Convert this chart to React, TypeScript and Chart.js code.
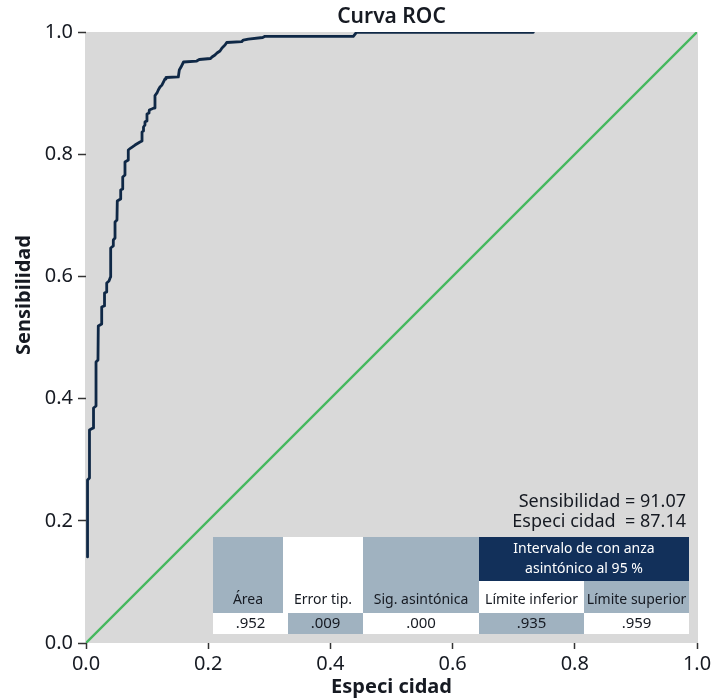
import React, { useEffect, useRef } from 'react';
import { Chart, registerables } from 'chart.js';

Chart.register(...registerables);

// ROC curve (1 - especificidad, sensibilidad)
const rocFpr = [
  0.0025, 0.0025, 0.0057, 0.0057, 0.0115, 0.0123, 0.0164, 0.0164, 0.0196, 0.0201,
  0.0257, 0.0257, 0.0295, 0.0303, 0.0336, 0.0339, 0.0376, 0.0401, 0.0404, 0.0447,
  0.0447, 0.0475, 0.0475, 0.0507, 0.0512, 0.0565, 0.0568, 0.0597, 0.0601, 0.0638,
  0.0638, 0.0692, 0.0692, 0.0732, 0.0802, 0.0884, 0.0917, 0.0917, 0.0938, 0.0941,
  0.0965, 0.0965, 0.0990, 0.0998, 0.1031, 0.1036, 0.1075, 0.1113, 0.1129, 0.1129,
  0.1162, 0.1183, 0.1211, 0.1244, 0.1293, 0.1309, 0.1511, 0.1527, 0.1555, 0.1596,
  0.1812, 0.1854, 0.2038, 0.2062, 0.2111, 0.2144, 0.2193, 0.2226, 0.2275, 0.2303,
  0.2548, 0.2574, 0.2656, 0.2892, 0.2930, 0.4375, 0.4427, 0.7321,
];
const rocTpr = [
  0.1408, 0.2668, 0.2700, 0.3486, 0.3519, 0.3846, 0.3879, 0.4599, 0.4632, 0.5188,
  0.5221, 0.5499, 0.5516, 0.5728, 0.5745, 0.5892, 0.5925, 0.5990, 0.6465, 0.6498,
  0.6596, 0.6628, 0.6890, 0.6923, 0.7234, 0.7267, 0.7414, 0.7430, 0.7627, 0.7660,
  0.7872, 0.7905, 0.8069, 0.8101, 0.8150, 0.8200, 0.8216, 0.8363, 0.8380, 0.8445,
  0.8478, 0.8527, 0.8543, 0.8658, 0.8674, 0.8723, 0.8739, 0.8756, 0.8789, 0.8960,
  0.9002, 0.9051, 0.9100, 0.9133, 0.9231, 0.9255, 0.9264, 0.9378, 0.9427, 0.9509,
  0.9525, 0.9550, 0.9566, 0.9591, 0.9624, 0.9656, 0.9689, 0.9738, 0.9787, 0.9828,
  0.9841, 0.9869, 0.9885, 0.9910, 0.9930, 0.9930, 0.9995, 0.9995,
];
// Reference diagonal
const diagX = [0, 1];
const diagY = [0, 1];

const chartTitle = 'Curva ROC';
const xTitle = 'Especi cidad';
const yTitle = 'Sensibilidad';
const statLines = ['Sensibilidad = 91.07', 'Especi cidad  = 87.14'];
const ciTitle = ['Intervalo de con anza', 'asintónico al 95 %'];
const tableHeaders = ['Área', 'Error tip.', 'Sig. asintónica', 'Límite inferior', 'Límite superior'];
const tableValues = ['.952', '.009', '.000', '.935', '.959'];

const FONT = '"Noto Sans", "Open Sans", sans-serif';
const TEXT = '#161a22';
const NAVY = '#12305a';
const STEEL = '#a0b2c0';
const WHITE = '#ffffff';

const decorPlugin = {
  id: 'decor',
  beforeDraw(chart: any) {
    const { ctx, chartArea: a } = chart;
    ctx.save();
    ctx.fillStyle = '#d9d9d9';
    ctx.fillRect(a.left - 1, a.top, a.right - a.left + 2, a.bottom - a.top);
    ctx.restore();
  },
  afterDraw(chart: any) {
    const { ctx, chartArea: a } = chart;
    const xs = chart.scales.x;
    const ys = chart.scales.y;
    const X = (v: number) => xs.getPixelForValue(v);
    const Y = (v: number) => ys.getPixelForValue(v);
    ctx.save();

    // Title
    ctx.fillStyle = TEXT;
    ctx.font = `600 21px ${FONT}`;
    ctx.textAlign = 'center';
    ctx.textBaseline = 'middle';
    ctx.fillText(chartTitle, (a.left + a.right) / 2, 17);

    // Y axis title
    ctx.save();
    ctx.translate(24, 295);
    ctx.rotate(-Math.PI / 2);
    ctx.font = `bold 20px ${FONT}`;
    ctx.fillText(yTitle, 0, 0);
    ctx.restore();

    // Stats text
    ctx.font = `18px ${FONT}`;
    ctx.textAlign = 'right';
    ctx.fillStyle = TEXT;
    ctx.fillText(statLines[0], X(0.982), Y(0.2313));
    ctx.fillText(statLines[1], X(0.982), Y(0.1985));

    // Table geometry (axis units)
    const hCols = [0.2079, 0.3224, 0.4534, 0.6432, 0.8151, 0.9869];
    const vCols = [0.2079, 0.3306, 0.4534, 0.6432, 0.8151, 0.9869];
    const rTop = 0.1735, rMid = 0.1015, rLab = 0.0491, rBot = 0.0147;
    const rect = (x0: number, x1: number, y0: number, y1: number, c: string) => {
      ctx.fillStyle = c;
      const px0 = Math.round(X(x0)), px1 = Math.round(X(x1));
      const py0 = Math.round(Y(y0)), py1 = Math.round(Y(y1));
      ctx.fillRect(px0, py0, px1 - px0, py1 - py0);
    };
    // header cells
    rect(hCols[0], hCols[1], rTop, rLab, STEEL);
    rect(hCols[1], hCols[2], rTop, rLab, WHITE);
    rect(hCols[2], hCols[3], rTop, rLab, STEEL);
    rect(hCols[3], hCols[5], rTop, rMid, NAVY);
    rect(hCols[3], hCols[4], rMid, rLab, WHITE);
    rect(hCols[4], hCols[5], rMid, rLab, STEEL);
    // value cells
    const vColors = [WHITE, STEEL, WHITE, STEEL, WHITE];
    for (let i = 0; i < 5; i++) rect(vCols[i], vCols[i + 1], rLab, rBot, vColors[i]);

    ctx.font = `14px ${FONT}`;
    ctx.textAlign = 'center';
    ctx.textBaseline = 'middle';
    ctx.fillStyle = WHITE;
    const ciX = (X(hCols[3]) + X(hCols[5])) / 2;
    ctx.fillText(ciTitle[0], ciX, Y(0.1543));
    ctx.fillText(ciTitle[1], ciX, Y(0.1211));
    ctx.fillStyle = TEXT;
    for (let i = 0; i < 5; i++) {
      ctx.fillText(tableHeaders[i], (X(hCols[i]) + X(hCols[i + 1])) / 2, Y(0.0704));
    }
    ctx.font = `15px ${FONT}`;
    for (let i = 0; i < 5; i++) {
      ctx.fillText(tableValues[i], (X(vCols[i]) + X(vCols[i + 1])) / 2, Y(0.0311));
    }
    ctx.restore();
  },
};

export default function App() {
  const ref = useRef<HTMLCanvasElement | null>(null);
  useEffect(() => {
    if (!ref.current) return;
    Chart.defaults.color = TEXT;
    Chart.defaults.font.family = FONT;
    const chart = new Chart(ref.current, {
      type: 'line',
      data: {
        datasets: [
          {
            label: 'Diagonal',
            data: diagX.map((x, i) => ({ x, y: diagY[i] })),
            borderColor: '#45b85e',
            borderWidth: 2.3,
            pointRadius: 0,
            tension: 0,
          },
          {
            label: 'ROC',
            data: rocFpr.map((x, i) => ({ x, y: rocTpr[i] })),
            borderColor: '#0f2846',
            borderWidth: 2.8,
            pointRadius: 0,
            tension: 0,
            borderJoinStyle: 'round',
            borderCapStyle: 'round',
          },
        ],
      },
      options: {
        animation: false,
        responsive: true,
        maintainAspectRatio: false,
        layout: { padding: { top: 32, right: 30, left: 0, bottom: 0 } },
        plugins: {
          legend: { display: false },
          title: { display: false },
          tooltip: { enabled: false },
        },
        scales: {
          x: {
            type: 'linear',
            min: 0,
            max: 1,
            border: { display: false },
            grid: { drawOnChartArea: false, drawTicks: true, tickLength: 6, tickColor: '#333', tickWidth: 1.5 },
            ticks: {
              stepSize: 0.2,
              padding: 3,
              font: { size: 20, family: FONT },
              color: TEXT,
              callback: (v: any) => Number(v).toFixed(1),
            },
            title: {
              display: true,
              text: xTitle,
              font: { size: 20, weight: 'bold', family: FONT },
              color: TEXT,
              padding: { top: 0, bottom: 1 },
            },
            afterFit: (s: any) => { s.height = 57; },
          },
          y: {
            type: 'linear',
            min: 0,
            max: 1,
            border: { display: false },
            grid: { drawOnChartArea: false, drawTicks: true, tickLength: 8, tickColor: '#333', tickWidth: 1.5 },
            ticks: {
              stepSize: 0.2,
              padding: 5,
              font: { size: 20, family: FONT },
              color: TEXT,
              callback: (v: any) => Number(v).toFixed(1),
            },
            afterFit: (s: any) => { s.width = 86; },
          },
        },
      },
      plugins: [decorPlugin],
    } as any);
    return () => chart.destroy();
  }, []);
  return (
    <div style={{ position: 'absolute', left: 0, top: 0, width: 727, height: 700, background: '#fff' }}>
      <canvas ref={ref} />
    </div>
  );
}
